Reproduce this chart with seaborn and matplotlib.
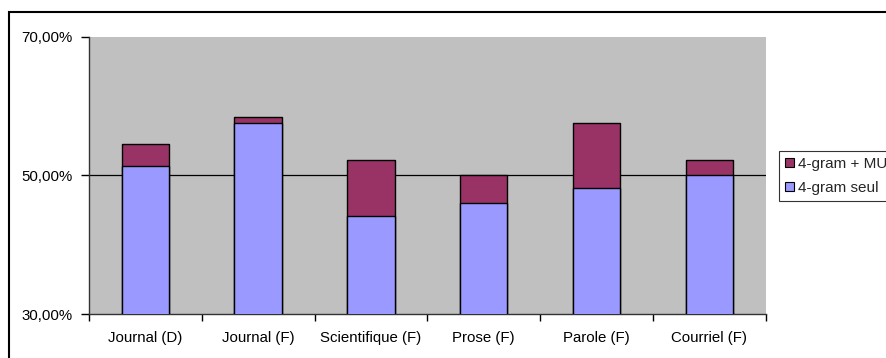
import matplotlib
matplotlib.use("Agg")
import matplotlib.pyplot as plt
import matplotlib.patches as mpatches
from matplotlib.ticker import FixedLocator, FuncFormatter
import seaborn as sns
import pandas as pd
import numpy as np

categories = ["Journal (D)", "Journal (F)", "Scientifique (F)", "Prose (F)", "Parole (F)", "Courriel (F)"]
seul = [51.4, 57.6, 44.1, 46.0, 48.15, 50.0]          # 4-gram seul
total = [54.5, 58.4, 52.3, 50.0, 57.6, 52.3]          # 4-gram + MU (cumulated)
series_labels = ["4-gram + MU", "4-gram seul"]
y_ticks = [30, 50, 70]

sns.set_theme(style="white")
plt.rcParams["font.family"] = ["Liberation Sans", "DejaVu Sans"]

PURPLE = "#993366"
BLUE = "#9999FF"
GRAY = "#C0C0C0"
FS = 10.8

df = pd.DataFrame({"cat": categories, "seul": seul, "total": total})

fig = plt.figure(figsize=(8.86, 3.58), dpi=100)
ax = fig.add_axes([89 / 886, 1 - 314 / 358, (765.7 - 89) / 886, (314 - 37) / 358])
ax.set_facecolor(GRAY)

sns.barplot(data=df, x="cat", y="total", color=PURPLE, saturation=1, width=0.42,
            edgecolor="black", linewidth=1.0, ax=ax, zorder=3)
sns.barplot(data=df, x="cat", y="seul", color=BLUE, saturation=1, width=0.42,
            edgecolor="black", linewidth=1.0, ax=ax, zorder=4)

ax.set_ylim(30, 70)
ax.set_xlim(-0.5, len(categories) - 0.5)
ax.set_xlabel("")
ax.set_ylabel("")

ax.yaxis.set_major_locator(FixedLocator(y_ticks))
ax.yaxis.set_major_formatter(FuncFormatter(lambda v, p: f"{v:.2f}".replace(".", ",") + "%"))
ax.axhline(50, color="black", linewidth=0.9, zorder=2)

ax.xaxis.set_minor_locator(FixedLocator(np.arange(-0.5, len(categories), 1.0)))
ax.tick_params(axis="x", which="major", length=0, pad=12, labelsize=FS, colors="black")
ax.tick_params(axis="x", which="minor", length=5, width=1, direction="out", color="black")
ax.tick_params(axis="y", which="major", length=6, width=1, direction="out", color="black",
               labelsize=FS, labelcolor="black", pad=6)
ax.tick_params(bottom=True, left=True, which="both")

for side in ["top", "right"]:
    ax.spines[side].set_visible(False)
for side in ["left", "bottom"]:
    ax.spines[side].set_visible(True)
    ax.spines[side].set_color("#333333")
    ax.spines[side].set_linewidth(1.0)

handles = [mpatches.Patch(facecolor=PURPLE, edgecolor="black", linewidth=0.8),
           mpatches.Patch(facecolor=BLUE, edgecolor="black", linewidth=0.8)]
leg = fig.legend(handles, series_labels, loc="upper left",
                 bbox_to_anchor=(779 / 886, 1 - 151 / 358),
                 fontsize=11, frameon=True, fancybox=False, borderpad=0.4,
                 handlelength=0.55, handleheight=0.55, handletextpad=0.3,
                 labelspacing=0.65, borderaxespad=0)
leg.get_frame().set_edgecolor("black")
leg.get_frame().set_linewidth(0.8)
leg.get_frame().set_facecolor("white")

fig.patches.append(mpatches.Rectangle((9 / 886, -0.2), 1.2, 1.2 - 11.7 / 358,
                                      transform=fig.transFigure, fill=False,
                                      edgecolor="black", linewidth=1.5, zorder=0))

fig.savefig("out.png", dpi=100)
